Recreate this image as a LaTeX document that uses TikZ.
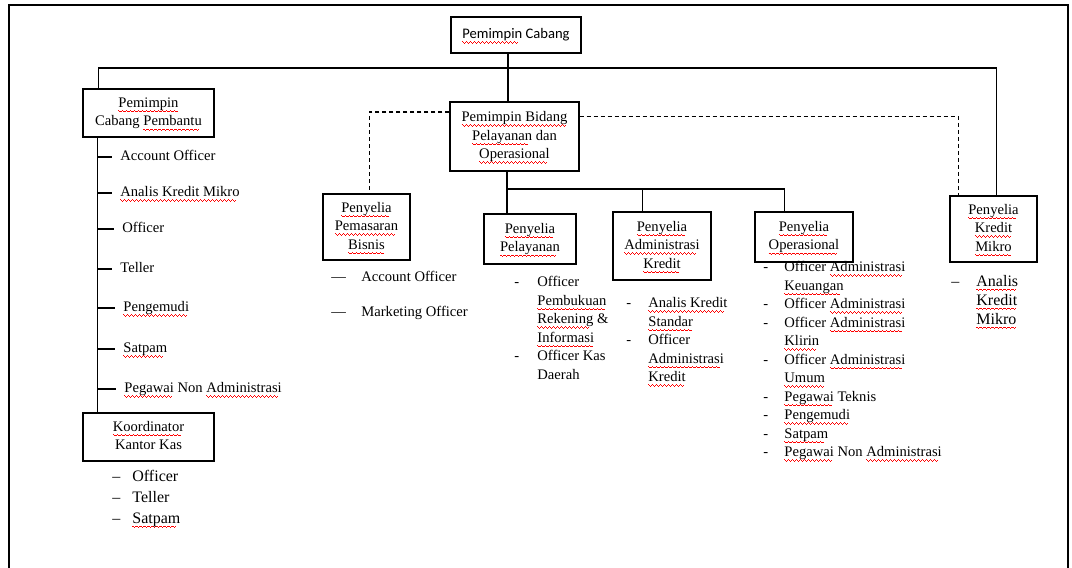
\documentclass[tikz,border=0pt]{standalone}
\usepackage{fontspec}
\setmainfont{Liberation Serif}
\newfontfamily\calibri{Carlito}
\usetikzlibrary{positioning}

\newsavebox\sqbox
\newcommand\wavebit{%
  \vrule height -1.3pt depth 1.75pt width .5pt
  \vrule height -1.65pt depth 2.1pt width .5pt
  \vrule height -2pt depth 2.45pt width .5pt
  \vrule height -1.65pt depth 2.1pt width .5pt}
\newcommand\sq[1]{\sbox\sqbox{#1}\leavevmode\rlap{\color{red}\hbox to\wd\sqbox{\leaders\hbox{\wavebit}\hfil}}\usebox\sqbox}
\newcommand\boxtxt[1]{\begin{tabular}{@{}c@{}}#1\end{tabular}}

\begin{document}
\begin{tikzpicture}[
  x=0.5pt, y=-0.5pt,
  box/.style={
        draw,
        line width=0.7pt,
        inner sep=0pt,
        font=\fontsize{7.3}{9.25}\selectfont
  },
  boxsize/.style 2 args={minimum width=#1*0.5pt, minimum height=#2*0.5pt},
  conn/.style={line width=0.6pt},
  dsh/.style={line width=0.6pt, dash pattern=on 2pt off 1.5pt},
  itm/.style={anchor=west, inner sep=0pt, text height=5pt, text depth=1.5pt,
        font=\fontsize{7.3}{9.25}\selectfont},
  lst/.style={anchor=north west, inner sep=0pt, font=\fontsize{7.3}{9.25}\selectfont}
]

    \useasboundingbox (0,0) rectangle (1072,568);
    \draw[line width=1.1pt] (9,568) -- (9,5) -- (1068,5) -- (1068,568);

    \node[box, boxsize={130}{36}, font=\calibri\fontsize{7.3}{9.25}\selectfont] (PC) at (516,35) {\boxtxt{\sq{Pemimpin} Cabang}};
    \node[box, boxsize={131}{48}] (PCP) at (148.5,113) {\boxtxt{\sq{Pemimpin}\\Cabang \sq{Pembantu}}};
    \node[box, boxsize={131}{48}] (KKK) at (148.5,437) {\boxtxt{\sq{Koordinator}\\Kantor Kas}};
    \node[box, boxsize={129}{69}] (PBO) at (514.5,136.5) {\boxtxt{\sq{Pemimpin Bidang}\\\sq{Pelayanan} dan\\\sq{Operasional}}};
    \node[box, boxsize={87}{66}] (PPB) at (366.5,227) {\boxtxt{\sq{Penyelia}\\\sq{Pemasaran}\\\sq{Bisnis}}};
    \node[box, boxsize={92}{50}] (PPL) at (530,239) {\boxtxt{\sq{Penyelia}\\\sq{Pelayanan}}};
    \node[box, boxsize={98}{68}] (PAK) at (662,246) {\boxtxt{\sq{Penyelia}\\\sq{Administrasi}\\\sq{Kredit}}};
    \node[box, boxsize={98}{50}] (POP) at (804,237) {\boxtxt{\sq{Penyelia}\\\sq{Operasional}}};
    \node[box, boxsize={87}{66}] (PKM) at (993.5,229) {\boxtxt{\sq{Penyelia}\\\sq{Kredit}\\\sq{Mikro}}};

    \coordinate (B_1) at (516,68);
    \coordinate (B_2) at (507,189);
    \coordinate (S) at ([xshift=7.5pt]PCP.south west);

    \draw[conn] ([xshift=8pt]PCP.north west) |- (B_1) -| ([xshift=1.5pt]PKM.north);
    \draw[conn] ([xshift=-4pt]PC.south) -- ([xshift=-4pt]PC.south |- PBO.north);
    \draw[dsh] ([yshift=12.25pt]PBO.west) -| ([xshift=1.5pt]PPB.north);
    \draw[dsh] ([yshift=10pt]PBO.east) -| ([xshift=4.5pt]PKM.north west);
    \draw[conn] (PBO.south -| B_2) -- (B_2 |- PPL.north);
    \draw[conn] (B_2) -| ([xshift=15pt]POP.north west);
    \draw[conn] ([xshift=15pt]PAK.north west) -- ([xshift=15pt]PAK.north west |- B_2);
    \draw[conn] (S) -- (S |- KKK.north);

    \node[itm] (L_1) at (120,157) {Account Officer};
    \node[itm] (L_2) at (120,193) {\sq{Analis Kredit Mikro}};
    \node[itm] (L_3) at (122,229) {Officer};
    \node[itm] (L_4) at (120,269) {Teller};
    \node[itm] (L_5) at (123,308) {\sq{Pengemudi}};
    \node[itm] (L_6) at (123,349) {\sq{Satpam}};
    \node[itm] (L_7) at (124,389) {\sq{Pegawai} Non \sq{Administrasi}};
    \foreach \i in {1,...,7}
        \draw[conn] (S |- L_\i.west) -- ([xshift=-4pt]L_\i.west);

    \node[itm] (M_1) at (331,278) {\makebox[15pt][l]{—}Account Officer};
    \node[itm] (M_2) at (331,313) {\makebox[15pt][l]{—}Marketing Officer};

    \node[lst, font=\fontsize{8}{10.5}\selectfont] (KK_list) at (112,466) {%
      \begin{tabular}{@{}p{10pt}@{}p{50pt}@{}}
        – & Officer\\
        – & Teller\\
        – & \sq{Satpam}
      \end{tabular}};

    \node[lst] (PL_list) at (514,273.5) {%
      \begin{tabular}{@{}p{11.5pt}@{}p{80pt}@{}}
        - & Officer\newline \sq{Pembukuan}\newline \sq{Rekening} \&\newline \sq{Informasi}\\
        - & Officer Kas\newline Daerah
      \end{tabular}};

    \node[lst] (AK_list) at (626,294.5) {%
      \begin{tabular}{@{}p{11pt}@{}p{80pt}@{}}
        - & \sq{Analis Kredit}\newline \sq{Standar}\\
        - & Officer\newline \sq{Administrasi}\newline \sq{Kredit}
      \end{tabular}};

    \node[lst] (OP_list) at (763,258.5) {%
      \begin{tabular}{@{}p{10.5pt}@{}p{120pt}@{}}
        - & Officer \sq{Administrasi}\newline \sq{Keuangan}\\
        - & Officer \sq{Administrasi}\\
        - & Officer \sq{Administrasi}\newline \sq{Klirin}\\
        - & Officer \sq{Administrasi}\newline \sq{Umum}\\
        - & \sq{Pegawai} Teknis\\
        - & \sq{Pengemudi}\\
        - & \sq{Satpam}\\
        - & \sq{Pegawai} Non \sq{Administrasi}
      \end{tabular}};

    \node[lst, font=\fontsize{8}{9.5}\selectfont] (KM_list) at (951,272.4) {%
      \begin{tabular}{@{}p{12.5pt}@{}p{40pt}@{}}
        – & \sq{Analis}\newline \sq{Kredit}\newline \sq{Mikro}
      \end{tabular}};
\end{tikzpicture}
\end{document}
